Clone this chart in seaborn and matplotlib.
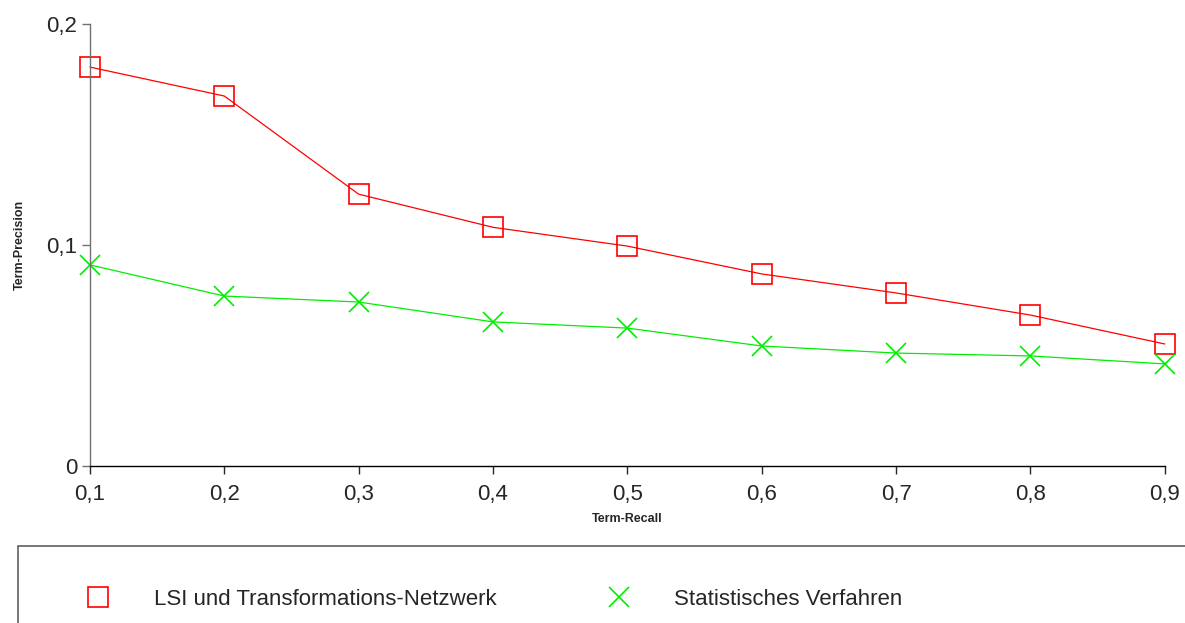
import numpy as np
import pandas as pd
import matplotlib
matplotlib.use('Agg')
import matplotlib.pyplot as plt
from matplotlib.patches import Rectangle
import seaborn as sns

# Data
recall = [0.1, 0.2, 0.3, 0.4, 0.5, 0.6, 0.7, 0.8, 0.9]
lsi_precision = [0.1805, 0.1674, 0.1230, 0.1080, 0.0995, 0.0869, 0.0783, 0.0683, 0.0552]
stat_precision = [0.0910, 0.0769, 0.0742, 0.0652, 0.0624, 0.0543, 0.0511, 0.0498, 0.0462]
series_names = ['LSI und Transformations-Netzwerk', 'Statistisches Verfahren']
x_ticklabels = ['0,1', '0,2', '0,3', '0,4', '0,5', '0,6', '0,7', '0,8', '0,9']
y_ticks = [0, 0.1, 0.2]
y_ticklabels = ['0', '0,1', '0,2']

df = pd.DataFrame({
    'Term-Recall': recall * 2,
    'Term-Precision': lsi_precision + stat_precision,
    'Verfahren': [series_names[0]] * len(recall) + [series_names[1]] * len(recall),
})

sns.set_style('white')
plt.rcParams['font.family'] = ['Liberation Sans', 'DejaVu Sans']

fig = plt.figure(figsize=(11.85, 6.23), dpi=100)
ax = fig.add_axes([0.0759, 0.252, 0.9071, 0.7095])

colors = {series_names[0]: '#ff0000', series_names[1]: '#00ee00'}
markers = {series_names[0]: 's', series_names[1]: 'x'}
sizes = {series_names[0]: 14, series_names[1]: 15}

for name in series_names:
    sub = df[df['Verfahren'] == name]
    sns.lineplot(data=sub, x='Term-Recall', y='Term-Precision', ax=ax,
                 color=colors[name], linewidth=0.9, marker=markers[name],
                 markersize=sizes[name], markerfacecolor='none',
                 markeredgecolor=colors[name], markeredgewidth=1.2,
                 label=name, legend=False, clip_on=False)

ax.set_xlim(0.1, 0.9)
ax.set_ylim(0, 0.2)
ax.set_xticks(recall)
ax.set_xticklabels(x_ticklabels)
ax.set_yticks(y_ticks)
ax.set_yticklabels(y_ticklabels)
ax.tick_params(axis='both', direction='out', length=6, width=1, labelsize=16,
               bottom=True, left=True)
ax.tick_params(axis='x', pad=7)
ax.tick_params(axis='y', color='#707070', pad=3)
for s in ['top', 'right']:
    ax.spines[s].set_visible(False)
ax.spines['left'].set_color('#707070')
ax.spines['bottom'].set_color('black')
ax.spines['left'].set_linewidth(1)
ax.spines['bottom'].set_linewidth(1)
ax.set_xlabel('Term-Recall', fontsize=9, fontweight='bold', labelpad=6)
ax.set_ylabel('Term-Precision', fontsize=9, fontweight='bold', labelpad=15)

# Legend box (clipped by figure edge like the original)
fig.patches.append(Rectangle((0.0152, -0.2), 1.1, 0.3236, transform=fig.transFigure,
                             fill=False, edgecolor='#606060', linewidth=1.2))
handles, labels = ax.get_legend_handles_labels()
leg = fig.legend(handles, labels, loc='center left', bbox_to_anchor=(0.066, 0.0385),
                 ncol=2, frameon=False, fontsize=16, handlelength=0,
                 handletextpad=2.5, columnspacing=5.5)
for h in leg.legend_handles:
    h.set_linestyle('none')

fig.savefig('out.png', dpi=100)
